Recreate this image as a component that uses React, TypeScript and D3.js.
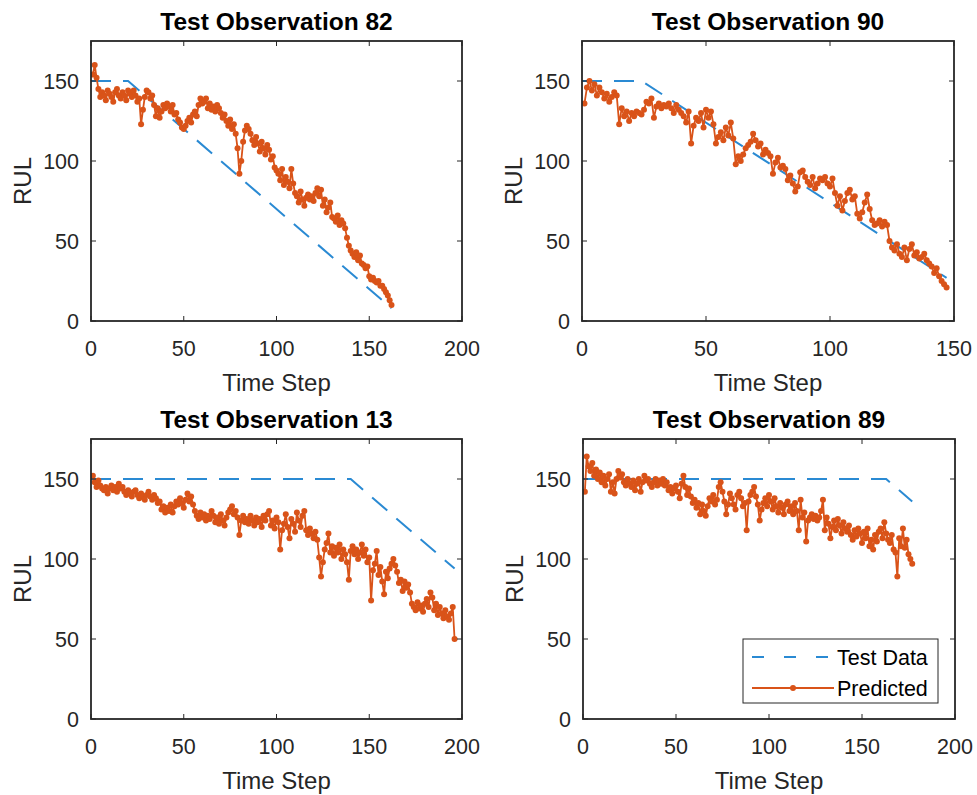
import React from "react";
import * as d3 from "d3";

// ---------- DATA ----------
const titles = ["Test Observation 82", "Test Observation 90", "Test Observation 13", "Test Observation 89"];
const xMaxes = [200, 150, 200, 200];
const yTicks = [0, 50, 100, 150];
const xTicks200 = [0, 50, 100, 150, 200];
const xTicks150 = [0, 50, 100, 150];

// Test data (true RUL) break points: time steps and values
const obs82TestT = [0, 20, 162];
const obs82TestV = [150, 150, 8];
const obs90TestT = [0, 24, 147];
const obs90TestV = [150, 150, 27];
const obs13TestT = [0, 140, 196];
const obs13TestV = [150, 150, 94];
const obs89TestT = [0, 163, 177];
const obs89TestV = [150, 150, 136];

// Predicted RUL, one value per time step starting at 1
const obs82Pred = [
  154, 160, 152, 145, 140, 143, 141, 138, 144, 142,
  140, 137, 143, 145, 141, 139, 143, 141, 138, 144,
  142, 140, 144, 141, 137, 139, 123, 132, 140, 144,
  143, 139, 141, 135, 128, 133, 127, 131, 135, 133,
  136, 134, 131, 135, 129, 130, 126, 124, 121, 120,
  122, 125, 127, 124, 129, 131, 128, 135, 139, 136,
  137, 139, 133, 136, 132, 134, 131, 135, 133, 130,
  127, 129, 125, 122, 126, 120, 123, 117, 108, 92,
  100, 112, 119, 122, 120, 117, 113, 110, 115, 111,
  106, 112, 108, 104, 110, 107, 101, 103, 96, 94,
  92, 88, 95, 85, 90, 87, 83, 95, 86, 80,
  78, 74, 81, 76, 72, 77, 79, 76, 78, 75,
  80, 83, 78, 82, 72, 76, 68, 71, 74, 65,
  64, 62, 66, 60, 63, 61, 58, 52, 47, 44,
  42, 40, 43, 38, 41, 36, 35, 33, 34, 28,
  26, 27, 25, 24, 25, 22, 22, 20, 18, 16,
  13, 10,
];

const obs90Pred = [
  136, 146, 150, 144, 148, 141, 146, 143, 139, 142,
  137, 140, 143, 141, 123, 133, 128, 131, 125, 130,
  128, 131, 130, 129, 132, 137, 136, 139, 127, 134,
  136, 133, 135, 134, 136, 133, 130, 135, 132, 130,
  128, 124, 131, 111, 122, 127, 125, 130, 121, 132,
  127, 131, 123, 111, 115, 118, 113, 121, 116, 124,
  114, 98, 103, 100, 104, 108, 110, 112, 117, 113,
  109, 111, 104, 107, 105, 103, 92, 99, 102, 96,
  97, 95, 88, 91, 86, 81, 84, 93, 94, 90,
  87, 85, 90, 83, 86, 89, 88, 90, 86, 84,
  89, 80, 72, 78, 69, 75, 80, 82, 76, 78,
  67, 64, 68, 74, 79, 70, 63, 60, 61, 63,
  59, 62, 60, 50, 46, 44, 48, 42, 40, 46,
  38, 45, 48, 41, 43, 39, 40, 42, 38, 36,
  34, 30, 33, 28, 25, 23, 21,
];

const obs13Pred = [
  152, 148, 145, 149, 146, 144, 143, 145, 141, 144,
  146, 143, 145, 142, 147, 144, 145, 142, 140, 143,
  141, 139, 142, 143, 140, 138, 141, 139, 137, 140,
  142, 139, 137, 140, 138, 135, 136, 131, 133, 129,
  132, 130, 134, 129, 133, 136, 134, 138, 135, 132,
  137, 141, 136, 139, 134, 130, 127, 125, 129, 126,
  128, 124, 127, 125, 130, 127, 123, 126, 122, 128,
  124, 121, 126, 129, 131, 133, 128, 130, 126, 115,
  124, 127, 123, 125, 122, 127, 124, 121, 126, 123,
  125, 120, 127, 124, 128, 130, 121, 124, 119, 126,
  123, 106, 118, 122, 128, 120, 113, 125, 122, 117,
  129, 124, 120, 127, 130, 118, 115, 119, 116, 113,
  117, 112, 101, 89, 98, 106, 110, 116, 104, 108,
  102, 107, 104, 109, 100, 106, 103, 98, 87, 105,
  108, 103, 106, 100, 104, 109, 102, 106, 98, 101,
  74, 93, 97, 105, 90, 95, 86, 78, 92, 88,
  94, 97, 100, 96, 92, 85, 87, 80, 86, 82,
  84, 79, 72, 70, 68, 73, 69, 71, 67, 72,
  75, 70, 79, 76, 68, 72, 65, 70, 66, 63,
  68, 64, 62, 66, 70, 50,
];

const obs89Pred = [
  142, 164, 158, 155, 160, 152, 156, 150, 154, 148,
  152, 146, 150, 153, 142, 148, 141, 150, 155, 151,
  153, 148, 146, 150, 147, 145, 149, 143, 147, 150,
  142, 148, 152, 149, 150, 147, 145, 148, 150, 146,
  149, 147, 150, 146, 148, 143, 145, 141, 144, 146,
  142, 138, 147, 152, 145, 140, 144, 139, 135, 137,
  132, 135, 128, 134, 130, 127, 133, 138, 136, 140,
  134, 137, 145, 148, 142, 136, 128, 134, 141, 138,
  134, 131, 140, 142, 138, 133, 135, 118, 136, 140,
  142, 145, 139, 134, 124, 131, 135, 138, 133, 140,
  136, 131, 138, 133, 129, 135, 132, 128, 134, 136,
  130, 133, 128, 135, 130, 118, 137, 126, 129, 111,
  124, 126, 128, 125, 127, 124, 126, 130, 137, 118,
  126, 122, 113, 120, 124, 118, 125, 121, 116, 123,
  119, 117, 121, 115, 112, 118, 114, 119, 116, 110,
  117, 113, 119, 108, 112, 106, 115, 111, 117, 119,
  113, 123, 116, 112, 110, 115, 106, 104, 89, 113,
  108, 119, 107, 112, 103, 100, 97,
];

const legendLabels = ["Test Data", "Predicted"];

// ---------- STYLE ----------
const FONT = "'Liberation Sans', Arial, Helvetica, sans-serif";
const AXIS = "#262626";
const BLUE = "#2a8ad3";
const ORANGE = "#D95319";

const boxes = [
  { l: 91, t: 41, r: 462, b: 321 },
  { l: 582, t: 41, r: 954, b: 321 },
  { l: 91, t: 439, r: 462, b: 719 },
  { l: 583, t: 439, r: 955, b: 719 },
];

const preds = [obs82Pred, obs90Pred, obs13Pred, obs89Pred];
const testTs = [obs82TestT, obs90TestT, obs13TestT, obs89TestT];
const testVs = [obs82TestV, obs90TestV, obs13TestV, obs89TestV];

function Panel({ idx }: { idx: number }) {
  const bx = boxes[idx];
  const x = d3.scaleLinear().domain([0, xMaxes[idx]]).range([bx.l, bx.r]);
  const y = d3.scaleLinear().domain([0, 175]).range([bx.b, bx.t]);
  const xTicks = xMaxes[idx] === 150 ? xTicks150 : xTicks200;
  const pred = preds[idx].map((v, i) => [i + 1, v] as [number, number]);
  const test = testTs[idx].map((t, i) => [t, testVs[idx][i]] as [number, number]);
  const line = d3
    .line<[number, number]>()
    .x((d) => x(d[0]))
    .y((d) => y(d[1]));
  const cx = (bx.l + bx.r) / 2;
  const cy = (bx.t + bx.b) / 2;
  const tl = 5;
  return (
    <g>
      <defs>
        <clipPath id={`clip${idx}`}>
          <rect x={bx.l} y={bx.t} width={bx.r - bx.l} height={bx.b - bx.t} />
        </clipPath>
      </defs>
      <rect x={bx.l} y={bx.t} width={bx.r - bx.l} height={bx.b - bx.t} fill="#fff" />
      <g clipPath={`url(#clip${idx})`}>
        <path d={line(test) || ""} fill="none" stroke={BLUE} strokeWidth={2} strokeDasharray="20 12" />
        <path d={line(pred) || ""} fill="none" stroke={ORANGE} strokeWidth={1.8} strokeLinejoin="round" />
        {pred.map((d, i) => (
          <circle key={i} cx={x(d[0])} cy={y(d[1])} r={3} fill={ORANGE} />
        ))}
      </g>
      {xTicks.map((t) => (
        <g key={"xt" + t}>
          <line x1={x(t)} x2={x(t)} y1={bx.b} y2={bx.b - tl} stroke={AXIS} strokeWidth={1} />
          <line x1={x(t)} x2={x(t)} y1={bx.t} y2={bx.t + tl} stroke={AXIS} strokeWidth={1} />
          <text x={x(t)} y={bx.b + 35} textAnchor="middle" fontFamily={FONT} fontSize={21.5} fill={AXIS}>
            {t}
          </text>
        </g>
      ))}
      {yTicks.map((t) => (
        <g key={"yt" + t}>
          <line x1={bx.l} x2={bx.l + tl} y1={y(t)} y2={y(t)} stroke={AXIS} strokeWidth={1} />
          <line x1={bx.r} x2={bx.r - tl} y1={y(t)} y2={y(t)} stroke={AXIS} strokeWidth={1} />
          <text x={bx.l - 12} y={y(t) + 7.5} textAnchor="end" fontFamily={FONT} fontSize={21.5} fill={AXIS}>
            {t}
          </text>
        </g>
      ))}
      <rect x={bx.l} y={bx.t} width={bx.r - bx.l} height={bx.b - bx.t} fill="none" stroke={AXIS} strokeWidth={1.8} />
      <text x={cx} y={bx.t - 11} textAnchor="middle" fontFamily={FONT} fontSize={24.5} fontWeight="bold" fill="#000">
        {titles[idx]}
      </text>
      <text x={cx} y={bx.b + 70} textAnchor="middle" fontFamily={FONT} fontSize={24} fill={AXIS}>
        Time Step
      </text>
      <text
        transform={`translate(${bx.l - 60},${cy}) rotate(-90)`}
        textAnchor="middle"
        fontFamily={FONT}
        fontSize={24}
        fill={AXIS}
      >
        RUL
      </text>
    </g>
  );
}

function Legend() {
  const lx = 743, ly = 639, lw = 195, lh = 64;
  const rows = [657, 688];
  return (
    <g>
      <rect x={lx} y={ly} width={lw} height={lh} fill="#fff" stroke={AXIS} strokeWidth={1} />
      <line x1={752} x2={834} y1={rows[0]} y2={rows[0]} stroke={BLUE} strokeWidth={2} strokeDasharray="12 20" />
      <line x1={752} x2={834} y1={rows[1]} y2={rows[1]} stroke={ORANGE} strokeWidth={1.8} />
      <circle cx={793} cy={rows[1]} r={3} fill={ORANGE} />
      {legendLabels.map((l, i) => (
        <text key={l} x={837} y={rows[i] + 7.5} fontFamily={FONT} fontSize={21.5} fill="#000">
          {l}
        </text>
      ))}
    </g>
  );
}

export default function App() {
  return (
    <svg
      width={977}
      height={795}
      style={{ position: "absolute", left: 0, top: 0, background: "#fff" }}
    >
      <rect x={0} y={0} width={977} height={795} fill="#fff" />
      {[0, 1, 2, 3].map((i) => (
        <Panel key={i} idx={i} />
      ))}
      <Legend />
    </svg>
  );
}
